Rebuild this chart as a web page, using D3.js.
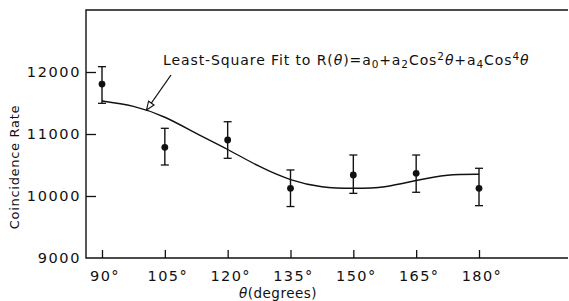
<!DOCTYPE html>
<html>
<head>
<meta charset="utf-8">
<script src="https://cdn.jsdelivr.net/npm/d3@7"></script>
<style>
  body { margin: 0; background: #fff; }
  svg { display: block; }
  text { font-family: "DejaVu Sans", sans-serif; fill: #111; }
</style>
</head>
<body>
<div id="chart"></div>
<script>
// measured points (angle in degrees, coincidence rate, error bar ends)
const angles = [90, 105, 120, 135, 150, 165, 180];
const rates = [11806, 10785, 10903, 10124, 10339, 10366, 10124];
const errHigh = [12086, 11092, 11198, 10420, 10661, 10661, 10447];
const errLow = [11495, 10500, 10608, 9830, 10043, 10060, 9844];

// least-square fit curve
const fitAngles = [90, 97.5, 105, 112.5, 120, 127.5, 135, 142.5, 150, 157.5, 165, 172.5, 180];
const fitRates = [11532, 11445, 11270, 11010, 10750, 10480, 10265, 10150, 10124, 10150, 10250, 10335, 10350];

const xTicks = [90, 105, 120, 135, 150, 165, 180];
const yTicks = [9000, 10000, 11000, 12000];

const width = 569, height = 301;
const frame = { left: 86, top: 10, right: 568, bottom: 258 };

const svg = d3.select("#chart").append("svg")
  .attr("width", width)
  .attr("height", height);

const x = d3.scaleLinear().domain([90, 180]).range([102, 479]);
const y = d3.scaleLinear().domain([9000, 12000]).range([258, 72]);

const ink = "#111";

// frame: left, top, bottom (no right edge)
svg.append("path")
  .attr("d", `M${frame.right},${frame.top}H${frame.left}V${frame.bottom}H${frame.right}`)
  .attr("fill", "none")
  .attr("stroke", ink)
  .attr("stroke-width", 1.4);

// y axis, ticks pointing inward
const yAxis = svg.append("g")
  .attr("transform", `translate(${frame.left},0)`)
  .call(d3.axisRight(y).tickValues(yTicks).tickSize(10).tickFormat(""));
yAxis.select(".domain").remove();
yAxis.selectAll(".tick line").attr("stroke", ink).attr("stroke-width", 1.3)
  .filter(d => d === 9000).remove();

svg.append("g").selectAll("text")
  .data(yTicks)
  .join("text")
  .attr("x", 81)
  .attr("y", d => y(d))
  .attr("dy", "0.36em")
  .attr("text-anchor", "end")
  .attr("font-size", 14.5)
  .attr("letter-spacing", 1.6)
  .text(d => d);

// x axis, ticks pointing up
const xAxis = svg.append("g")
  .attr("transform", `translate(0,${frame.bottom})`)
  .call(d3.axisTop(x).tickValues(xTicks).tickSize(8).tickFormat(""));
xAxis.select(".domain").remove();
xAxis.selectAll(".tick line").attr("stroke", ink).attr("stroke-width", 1.3);

svg.append("g").selectAll("text")
  .data(xTicks)
  .join("text")
  .attr("x", d => x(d) + 3)
  .attr("y", 281)
  .attr("text-anchor", "middle")
  .attr("font-size", 14.5)
  .attr("letter-spacing", 1.4)
  .text(d => d + "°");

// axis titles
svg.append("text")
  .attr("transform", "translate(19,167) rotate(-90)")
  .attr("text-anchor", "middle")
  .attr("font-size", 13)
  .attr("letter-spacing", 0.7)
  .text("Coincidence Rate");

const xt = svg.append("text")
  .attr("x", 278)
  .attr("y", 298)
  .attr("text-anchor", "middle")
  .attr("font-size", 13.5)
  .attr("letter-spacing", 0.5);
xt.append("tspan").attr("font-style", "italic").text("θ");
xt.append("tspan").text("(degrees)");

// fit curve
const line = d3.line()
  .x(d => x(d[0]))
  .y(d => y(d[1]))
  .curve(d3.curveNatural);

svg.append("path")
  .datum(d3.zip(fitAngles, fitRates))
  .attr("d", line)
  .attr("fill", "none")
  .attr("stroke", ink)
  .attr("stroke-width", 1.4);

// error bars
const pts = svg.append("g").selectAll("g")
  .data(d3.range(angles.length))
  .join("g");

pts.append("line")
  .attr("x1", i => x(angles[i])).attr("x2", i => x(angles[i]))
  .attr("y1", i => y(errHigh[i])).attr("y2", i => y(errLow[i]))
  .attr("stroke", ink).attr("stroke-width", 1.4);

[errHigh, errLow].forEach(arr => {
  pts.append("line")
    .attr("x1", i => x(angles[i]) - 4).attr("x2", i => x(angles[i]) + 4)
    .attr("y1", i => y(arr[i])).attr("y2", i => y(arr[i]))
    .attr("stroke", ink).attr("stroke-width", 1.3);
});

pts.append("circle")
  .attr("cx", i => x(angles[i]))
  .attr("cy", i => y(rates[i]))
  .attr("r", 3.4)
  .attr("fill", ink);

// annotation
const ann = svg.append("text")
  .attr("x", 163)
  .attr("y", 65)
  .attr("font-size", 14)
  .attr("letter-spacing", 0.9);
ann.append("tspan").text("Least-Square Fit to R(");
ann.append("tspan").attr("font-style", "italic").text("θ");
ann.append("tspan").text(")=a");
ann.append("tspan").attr("font-size", 10.5).attr("dy", 3).text("0");
ann.append("tspan").attr("dy", -3).text("+a");
ann.append("tspan").attr("font-size", 10.5).attr("dy", 3).text("2");
ann.append("tspan").attr("dy", -3).text("Cos");
ann.append("tspan").attr("font-size", 10.5).attr("dy", -5).text("2");
ann.append("tspan").attr("dy", 5).attr("font-style", "italic").text("θ");
ann.append("tspan").text("+a");
ann.append("tspan").attr("font-size", 10.5).attr("dy", 3).text("4");
ann.append("tspan").attr("dy", -3).text("Cos");
ann.append("tspan").attr("font-size", 10.5).attr("dy", -5).text("4");
ann.append("tspan").attr("dy", 5).attr("font-style", "italic").text("θ");

// arrow from label to curve, open head
const tip = [146.5, 110], tail = [171, 75];
svg.append("line")
  .attr("x1", tail[0]).attr("y1", tail[1])
  .attr("x2", tip[0]).attr("y2", tip[1])
  .attr("stroke", ink).attr("stroke-width", 1.3);
const ang = Math.atan2(tail[1] - tip[1], tail[0] - tip[0]);
const hl = 9, hw = 0.38;
svg.append("path")
  .attr("d", `M${tip[0]},${tip[1]}` +
    `L${tip[0] + hl * Math.cos(ang + hw)},${tip[1] + hl * Math.sin(ang + hw)}` +
    `L${tip[0] + hl * Math.cos(ang - hw)},${tip[1] + hl * Math.sin(ang - hw)}Z`)
  .attr("fill", "#fff")
  .attr("stroke", ink)
  .attr("stroke-width", 1.1);
</script>
</body>
</html>
